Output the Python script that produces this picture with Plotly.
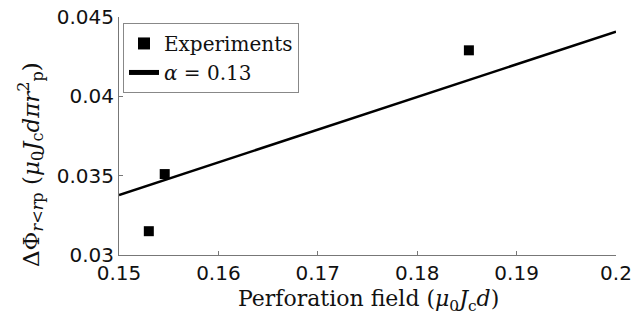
import plotly.graph_objects as go

exp_x = [0.153, 0.1546, 0.1852]
exp_y = [0.0315, 0.0351, 0.0429]
fit_x = [0.15, 0.2]
fit_y = [0.03378, 0.04408]
x_ticks = [0.15, 0.16, 0.17, 0.18, 0.19, 0.2]
x_ticklabels = ["0.15", "0.16", "0.17", "0.18", "0.19", "0.2"]
y_ticks = [0.03, 0.035, 0.04, 0.045]
y_ticklabels = ["0.03", "0.035", "0.04", "0.045"]
x_title = "Perforation field (<i>μ</i><sub>0</sub><i>J</i><sub>c</sub><i>d</i>)"
y_title = "ΔΦ<sub><i>r</i>&lt;<i>r</i>p</sub> (<i>μ</i><sub>0</sub><i>J</i><sub>c</sub><i>dπr</i><sup>2</sup><sub>p</sub>)"

fig = go.Figure()
fig.add_trace(go.Scatter(x=exp_x, y=exp_y, mode="markers", name="Experiments",
                         marker=dict(symbol="square", size=10, color="black")))
fig.add_trace(go.Scatter(x=fit_x, y=fit_y, mode="lines", name="<i>α</i> = 0.13",
                         line=dict(color="black", width=2.5)))

W, H = 636, 316
ml, mr, mt, mb = 119, 20, 17, 61
pw, ph = W - ml - mr, H - mt - mb
serif = "DejaVu Serif"

tickfont = dict(family="DejaVu Sans", size=20, color="#111")
fig.update_layout(
    width=W, height=H,
    margin=dict(l=ml, r=mr, t=mt, b=mb, autoexpand=False),
    paper_bgcolor="white", plot_bgcolor="white",
    font=dict(family=serif, color="#111"),
    legend=dict(x=0.008, y=0.975, xanchor="left", yanchor="top",
                bgcolor="white", bordercolor="#888", borderwidth=1,
                font=dict(family=serif, size=20, color="#111"),
                tracegroupgap=0, itemsizing="constant", itemwidth=30),
    showlegend=True,
)
fig.update_xaxes(range=[0.15, 0.2], tickvals=x_ticks, ticktext=x_ticklabels,
                 showline=True, linecolor="#777", linewidth=1, ticks="inside",
                 ticklen=4, tickcolor="#777", showgrid=False, zeroline=False,
                 tickfont=tickfont, automargin=False)
fig.update_yaxes(range=[0.03, 0.045], tickvals=y_ticks, ticktext=y_ticklabels,
                 showline=True, linecolor="#777", linewidth=1, ticks="inside",
                 ticklen=4, tickcolor="#777", showgrid=False, zeroline=False,
                 tickfont=tickfont, automargin=False)

fig.add_annotation(text=x_title, xref="paper", yref="paper",
                   x=(368 - ml) / pw, y=(H - mb - 300) / ph,
                   xanchor="center", yanchor="middle", showarrow=False,
                   font=dict(family=serif, size=22, color="#111"))
fig.add_annotation(text=y_title, xref="paper", yref="paper",
                   x=(30 - ml) / pw, y=(H - mb - 165) / ph,
                   xanchor="center", yanchor="middle", showarrow=False, textangle=-90,
                   font=dict(family=serif, size=23, color="#111"))

fig.write_html("out.html", config={"displayModeBar": False},
               post_script="document.body.style.margin='0';")
